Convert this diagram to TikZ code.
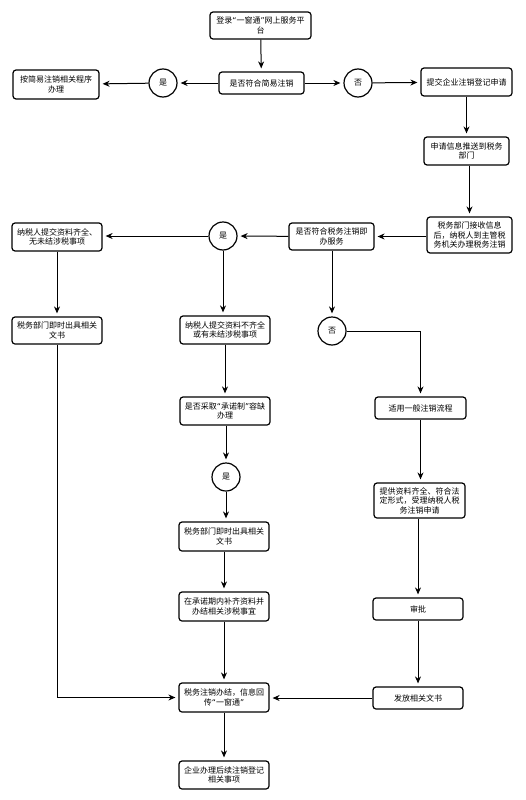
\documentclass[tikz,border=0pt]{standalone}
\usepackage{fontspec}
\setmainfont{Noto Sans CJK SC}
\newfontfamily\quotefont{DejaVu Sans}
\newcommand{\openq}{{\quotefont“}}
\newcommand{\closeq}{{\quotefont”}}
\usetikzlibrary{arrows.meta}

\begin{document}
\begin{tikzpicture}[x=1pt, y=-1pt,
    font=\fontsize{8}{9.5}\selectfont,
    stepbox/.style={draw, rounded corners=3pt, line width=1.2pt, align=center,
      inner sep=1pt, minimum width=90pt, minimum height=28pt},
    choice/.style={draw, circle, line width=1.2pt, minimum size=28pt, inner sep=0pt},
    flow/.style={line width=1pt, -{Stealth[length=7pt, width=6pt]}, shorten >=3pt}]

            % Canvas
            \useasboundingbox (0,0) rectangle (525,800);

            % Start and simple deregistration check
            \node [stepbox, minimum width=101pt, minimum height=27pt] (login) at (260.5,25.5) {登录\openq 一窗通\closeq 网上服务平\\台};
            \node [stepbox, minimum width=85pt, minimum height=22pt] (simple) at (261.5,83) {是否符合简易注销};
            \node [choice] (simpleyes) at (163,83) {是};
            \node [choice] (simpleno) at (358,83) {否};
            \node [stepbox, minimum width=86pt, minimum height=29pt] (simpleway) at (56,84.5) {按简易注销相关程序\\办理};
            \node [stepbox, minimum width=91pt] (submit) at (466.5,82) {提交企业注销登记申请};

            % Right column: push to tax department
            \node [stepbox, minimum width=85pt] (push) at (466.5,151) {申请信息推送到税务\\部门};
            \node [stepbox, minimum width=85pt, minimum height=36pt] (receive) at (469.5,235) {税务部门接收信息\\后，纳税人到主管税\\务机关办理税务注销};

            % Instant service check
            \node [stepbox, minimum width=85pt, minimum height=27pt] (instant) at (331.5,236.5) {是否符合税务注销即\\办服务};
            \node [choice] (instantyes) at (223,236) {是};
            \node [choice] (instantno) at (332,331) {否};

            % Left branch: complete materials
            \node [stepbox] (complete) at (57,237) {纳税人提交资料齐全、\\无未结涉税事项};
            \node [stepbox, minimum height=27pt] (issuea) at (57,330.5) {税务部门即时出具相关\\文书};

            % Middle branch: promise system
            \node [stepbox] (incomplete) at (225,330) {纳税人提交资料不齐全\\或有未结涉税事项};
            \node [stepbox] (promise) at (225,411) {是否采取\openq 承诺制\closeq 容缺\\办理};
            \node [choice] (promiseyes) at (226,477) {是};
            \node [stepbox, minimum height=29pt] (issueb) at (224,536.5) {税务部门即时出具相关\\文书};
            \node [stepbox, minimum height=29pt] (supplement) at (224,606.5) {在承诺期内补齐资料并\\办结相关涉税事宜};

            % Right branch: general procedure
            \node [stepbox, minimum width=91pt, minimum height=22pt] (general) at (420.5,408) {适用一般注销流程};
            \node [stepbox, minimum width=91pt, minimum height=35pt] (accept) at (419.5,500.5) {提供资料齐全、符合法\\定形式，受理纳税人税\\务注销申请};
            \node [stepbox, minimum height=22pt] (approve) at (418,609) {审批};
            \node [stepbox, minimum height=22pt] (issuec) at (418,698) {发放相关文书};

            % End
            \node [stepbox, minimum height=29pt] (done) at (224,697.5) {税务注销办结，信息回\\传\openq 一窗通\closeq};
            \node [stepbox] (follow) at (224,775) {企业办理后续注销登记\\相关事项};

            % Connectors
            \draw [flow] (login) -- (simple);
            \draw [flow] (simple) -- (simpleyes);
            \draw [flow] (simpleyes) -- (simpleway);
            \draw [flow] (simple) -- (simpleno);
            \draw [flow] (simpleno) -- (submit);
            \draw [flow] (submit) -- (push);
            \draw [flow] (push.south -| receive.north) -- (receive.north);
            \draw [flow] (receive.west |- instant.east) -- (instant.east);
            \draw [flow] (instant) -- (instantyes);
            \draw [flow] (instantyes) -- (instantyes -| complete.east);
            \draw [flow] (instant.south -| instantno) -- (instantno);
            \draw [flow] (instantno) -| (general.north);
            \draw [flow] (instantyes) -- (instantyes |- incomplete.north);
            \draw [flow] (complete) -- (issuea);
            \draw [flow] (incomplete) -- (promise);
            \draw [flow] (promise.south -| promiseyes) -- (promiseyes);
            \draw [flow] (promiseyes) -- (promiseyes |- issueb.north);
            \draw [flow] (issueb) -- (supplement);
            \draw [flow] (supplement) -- (done);
            \draw [flow] (general) -- (general |- accept.north);
            \draw [flow] (accept.south -| approve) -- (approve);
            \draw [flow] (approve) -- (issuec);
            \draw [flow] (issuec) -- (issuec -| done.east);
            \draw [flow] (issuea.south) |- (done.west);
            \draw [flow] (done) -- (follow);
\end{tikzpicture}
\end{document}
